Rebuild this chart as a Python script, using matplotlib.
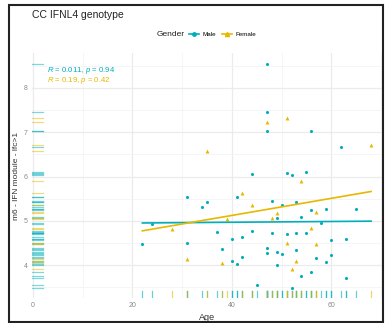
import numpy as np
import matplotlib
matplotlib.use("Agg")
import matplotlib.pyplot as plt
from matplotlib.lines import Line2D
from matplotlib.patches import Rectangle

plt.rcParams['font.family'] = ['Liberation Sans', 'DejaVu Sans']
plt.rcParams['mathtext.fontset'] = 'custom'
plt.rcParams['mathtext.it'] = 'Liberation Sans:italic'
plt.rcParams['mathtext.rm'] = 'Liberation Sans'

# male points (age, m6 score)
male_age = [22, 24, 31, 31, 34, 35, 37, 38, 40, 40, 41, 41, 42, 42, 44, 44, 45,
            47, 47, 47, 47, 47, 48, 48, 49, 49, 49, 50, 50, 51, 51, 52, 52,
            53, 53, 53, 54, 54, 55, 55, 56, 56, 56, 57, 58, 59, 59, 60, 60,
            62, 63, 63, 65]
male_val = [4.49, 4.94, 5.54, 4.51, 5.32, 5.42, 4.76, 4.37, 4.59, 4.10, 5.55, 4.03,
            4.64, 4.19, 6.06, 4.77, 3.56, 8.54, 7.46, 7.04, 4.39, 4.27, 5.44, 4.73,
            5.06, 4.29, 4.00, 5.37, 4.25, 6.09, 4.70, 6.04, 3.49, 5.42, 4.72, 4.34,
            5.08, 3.75, 6.11, 4.73, 7.04, 5.24, 3.84, 4.16, 4.95, 5.28, 4.07, 4.57,
            4.22, 6.66, 4.59, 3.72, 5.28]
# female points
female_age = [28, 31, 35, 38, 39, 42, 44, 47, 48, 49, 51, 51, 52, 53, 54, 56, 57, 57, 68]
female_val = [4.82, 4.13, 6.58, 4.05, 5.04, 5.63, 5.36, 7.24, 5.07, 5.17, 7.32, 4.50,
              3.92, 4.09, 5.91, 4.85, 5.19, 4.47, 6.71]

male_col = "#00AFBB"
female_col = "#E7B800"
stat_text = {"male": r"$\it{R}$ = 0.011, $\it{p}$ = 0.94",
             "female": r"$\it{R}$ = 0.19, $\it{p}$ = 0.42"}

fig = plt.figure(figsize=(3.85, 3.23), dpi=100)
ax = fig.add_axes([32/385, 1-298/323, 351/385, 245/323])

ax.set_xlim(-0.2, 70.4)
ax.set_ylim(3.26, 8.79)
ax.set_xticks([0, 20, 40, 60])
ax.set_xticks([10, 30, 50, 70], minor=True)
ax.set_yticks([4, 5, 6, 7, 8])
ax.set_yticks(np.arange(3.5, 8.6, 1.0), minor=True)
ax.grid(which='major', color='#EBEBEB', lw=0.9)
ax.grid(which='minor', color='#F2F2F2', lw=0.5)
ax.set_axisbelow(True)
for s in ax.spines.values():
    s.set_visible(False)
ax.tick_params(which='both', length=0, labelsize=5, labelcolor='#8a8a8a', pad=3)

all_age = np.array(male_age + female_age)
xr = np.array([all_age.min(), all_age.max()])

for ages, vals, col, mk, sz in [(male_age, male_val, male_col, 'o', 5),
                                (female_age, female_val, female_col, '^', 8)]:
    ages = np.array(ages)
    vals = np.array(vals)
    ax.scatter(ages, vals, s=sz, marker=mk, color=col, lw=0, zorder=3)
    b, a = np.polyfit(ages, vals, 1)
    ax.plot(xr, a + b*xr, color=col, lw=1.2, zorder=4)
    # rugs
    for x in ages:
        ax.plot([x, x], [0, 0.03], transform=ax.get_xaxis_transform(),
                color=col, alpha=0.6, lw=0.9, zorder=2)
    for y in vals:
        ax.plot([0, 0.03], [y, y], transform=ax.get_yaxis_transform(),
                color=col, alpha=0.5, lw=0.9, zorder=2)

ax.text(15/351, 1-17.5/245, stat_text["male"], transform=ax.transAxes,
        color=male_col, fontsize=5.6, va='center')
ax.text(15/351, 1-27.5/245, stat_text["female"], transform=ax.transAxes,
        color=female_col, fontsize=5.6, va='center')

ax.set_xlabel("Age", fontsize=6.5, color='#333333', labelpad=3)
ax.set_ylabel("m6 - IFN module - lfc>1", fontsize=6, color='#333333', labelpad=3)

fig.text(32/385, 1-15/323, "CC IFNL4 genotype", fontsize=7.5, va='center', color='#222222')
fig.text(157/385, 1-34/323, "Gender", fontsize=6, va='center', color='#222222')
handles = [Line2D([], [], color=male_col, marker='o', markersize=2.5, lw=1.2),
           Line2D([], [], color=female_col, marker='^', markersize=3, lw=1.2)]
fig.legend(handles, ["Male", "Female"], ncol=2, loc='center left',
           bbox_to_anchor=(186/385, 1-34/323), frameon=False, fontsize=4.5,
           handlelength=1.6, handletextpad=0.5, columnspacing=1.0, borderpad=0)

fig.patches.append(Rectangle((9/385, 1/323), 374/385, 317/323, transform=fig.transFigure,
                             fill=False, edgecolor='#222222', lw=1.5))

fig.savefig("out.png", dpi=100)
